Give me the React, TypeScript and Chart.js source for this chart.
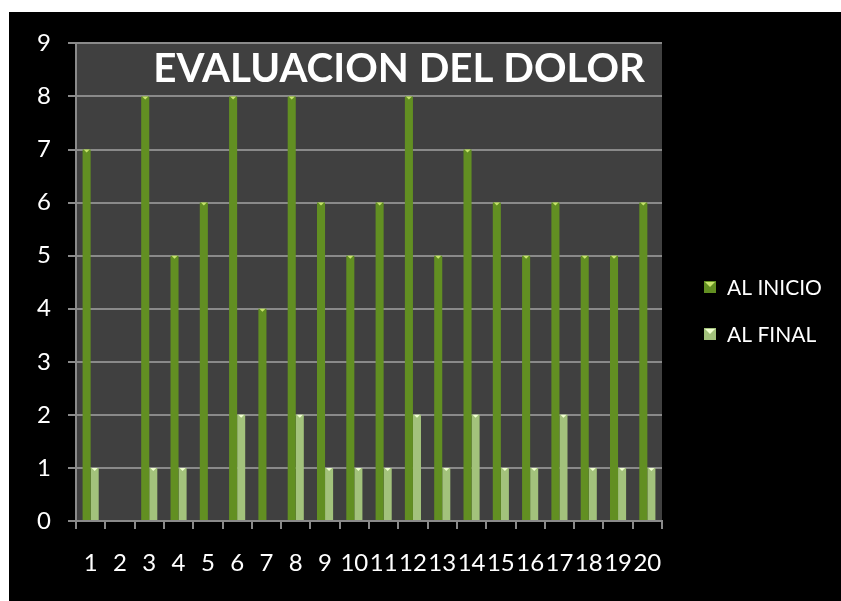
import React, { useEffect, useRef } from "react";
import { Chart, registerables } from "chart.js";

Chart.register(...registerables);

const categories = ["1", "2", "3", "4", "5", "6", "7", "8", "9", "10", "11", "12", "13", "14", "15", "16", "17", "18", "19", "20"];
const alInicio = [7, null, 8, 5, 6, 8, 4, 8, 6, 5, 6, 8, 5, 7, 6, 5, 6, 5, 5, 6];
const alFinal = [1, null, 1, 1, null, 2, null, 2, 1, 1, 1, 2, 1, 2, 1, 1, 2, 1, 1, 1];
const yTicks = [0, 1, 2, 3, 4, 5, 6, 7, 8, 9];
const titleText = "EVALUACION DEL DOLOR";
const seriesNames = ["AL INICIO", "AL FINAL"];

const FONT = "Lato, 'Liberation Sans', sans-serif";
const GREEN = "#628f22";
const LIGHT = "#a3c27c";

const bgPlugin = {
  id: "plotBg",
  beforeDraw(chart: any) {
    const { ctx, chartArea } = chart;
    ctx.save();
    ctx.fillStyle = "#404040";
    ctx.fillRect(chartArea.left, chartArea.top, chartArea.right - chartArea.left, chartArea.bottom - chartArea.top);
    ctx.restore();
  },
};

const overlayPlugin = {
  id: "overlay",
  afterDatasetsDraw(chart: any) {
    const { ctx } = chart;
    chart.data.datasets.forEach((ds: any, i: number) => {
      const meta = chart.getDatasetMeta(i);
      meta.data.forEach((bar: any, j: number) => {
        if (ds.data[j] == null) return;
        const w = bar.width;
        ctx.save();
        ctx.fillStyle = i === 0 ? "#c6e36a" : "#f0ffd0";
        ctx.beginPath();
        ctx.moveTo(bar.x - w / 2 + 1, bar.y);
        ctx.lineTo(bar.x + w / 2 - 1, bar.y);
        ctx.lineTo(bar.x, bar.y + 3);
        ctx.closePath();
        ctx.fill();
        ctx.restore();
      });
    });
  },
  afterDraw(chart: any) {
    const { ctx, chartArea } = chart;
    ctx.save();
    let size = 40;
    ctx.font = `bold ${size}px ${FONT}`;
    const w = ctx.measureText(titleText).width;
    size = size * 492 / w;
    ctx.font = `bold ${size}px ${FONT}`;
    ctx.fillStyle = "#ffffff";
    ctx.textAlign = "right";
    ctx.textBaseline = "alphabetic";
    ctx.fillText(titleText, chartArea.right - 17, chartArea.top + 39);
    const ys = [275, 322];
    chart.data.datasets.forEach((ds: any, i: number) => {
      const y = ys[i];
      ctx.fillStyle = ds.backgroundColor;
      ctx.fillRect(695, y - 6, 12, 12);
      ctx.fillStyle = i === 0 ? "#c6e36a" : "#f0ffd0";
      ctx.beginPath();
      ctx.moveTo(696, y - 5);
      ctx.lineTo(706, y - 5);
      ctx.lineTo(701, y);
      ctx.closePath();
      ctx.fill();
      ctx.fillStyle = "#ffffff";
      ctx.font = `21px ${FONT}`;
      ctx.textAlign = "left";
      ctx.textBaseline = "middle";
      ctx.fillText(ds.label, 718, y + 1);
    });
    ctx.restore();
  },
};

export default function App() {
  const ref = useRef<HTMLCanvasElement>(null);
  useEffect(() => {
    if (!ref.current) return;
    const chart = new Chart(ref.current, {
      type: "bar",
      data: {
        labels: categories,
        datasets: [
          { label: seriesNames[0], data: alInicio, backgroundColor: GREEN, barPercentage: 1, categoryPercentage: 0.55 },
          { label: seriesNames[1], data: alFinal, backgroundColor: LIGHT, barPercentage: 1, categoryPercentage: 0.55 },
        ],
      },
      options: {
        animation: false,
        responsive: false,
        maintainAspectRatio: false,
        layout: { padding: { left: 0, top: 29, right: 179, bottom: 0 } },
        plugins: { legend: { display: false }, title: { display: false }, tooltip: { enabled: false } },
        scales: {
          x: {
            afterFit: (s: any) => { s.height = 80; },
            grid: { drawOnChartArea: false, drawTicks: true, tickLength: 8, color: "#8a8a8a", lineWidth: 2, offset: true },
            border: { color: "#8a8a8a", width: 2 },
            ticks: { color: "#ffffff", font: { family: FONT, size: 24 }, padding: 20, autoSkip: false, maxRotation: 0 },
          },
          y: {
            min: 0,
            max: 9,
            afterFit: (s: any) => { s.width = 67; },
            afterBuildTicks: (s: any) => { s.ticks = yTicks.map((v) => ({ value: v })); },
            grid: { color: "#8a8a8a", lineWidth: 2, tickLength: 8 },
            border: { color: "#8a8a8a", width: 2 },
            ticks: { color: "#ffffff", font: { family: FONT, size: 24 }, padding: 17 },
          },
        },
      },
      plugins: [bgPlugin, overlayPlugin],
    });
    return () => chart.destroy();
  }, []);
  return (
    <div style={{ position: "fixed", left: 9, top: 12, width: 832, height: 589, background: "#000" }}>
      <canvas ref={ref} width={832} height={589} style={{ width: 832, height: 589, display: "block" }} />
    </div>
  );
}
